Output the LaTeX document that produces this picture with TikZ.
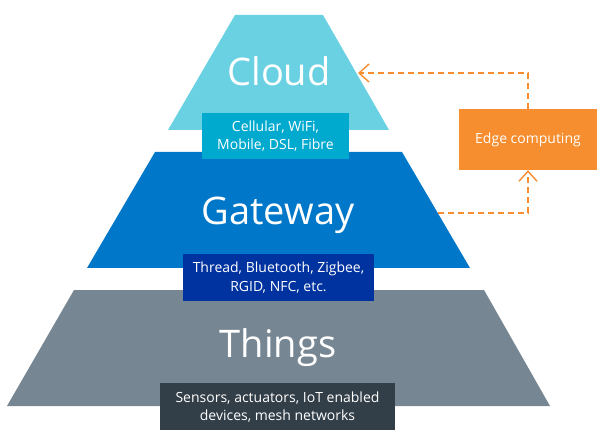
\documentclass[tikz,border=0pt]{standalone}
\usepackage{fontspec}
\setmainfont{Open Sans}
\usetikzlibrary{arrows.meta}
\definecolor{cloudcol}{HTML}{6AD1E3}
\definecolor{cloudbox}{HTML}{00A9CE}
\definecolor{gatecol}{HTML}{0077C8}
\definecolor{gatebox}{HTML}{0033A0}
\definecolor{thingcol}{HTML}{768692}
\definecolor{thingbox}{HTML}{333F48}
\definecolor{edgecol}{HTML}{F68D2E}
\tikzset{
  tier/.style={text=white,anchor=base,inner sep=0pt,font=\fontsize{38}{40}\selectfont},
  linkbox/.style={text=white,align=center,inner sep=0pt,font=\fontsize{14}{18.5}\selectfont},
  dasharrow/.style={draw=edgecol,line width=1.2pt,dash pattern=on 6pt off 4pt,-{Straight Barb[length=10pt,width=18pt,line width=1.4pt]}}
}
\begin{document}
\begin{tikzpicture}[x=1pt,y=-1pt]
  \useasboundingbox (0,0) rectangle (602,430);
  \fill[cloudcol] (235,15) -- (323,15) -- (389,130) -- (168,130) -- cycle;
  \fill[gatecol] (155,152) -- (402,152) -- (470,268) -- (87,268) -- cycle;
  \fill[thingcol] (74,290) -- (484,290) -- (550,406) -- (7,406) -- cycle;
  \node[tier] (cloud) at (279,86) {Cloud};
  \node[tier] (gateway) at (278,225) {Gateway};
  \node[tier] (things) at (278,357) {Things};
  \node[linkbox,fill=cloudbox,minimum width=147pt,minimum height=46pt] (cloudlink) at (275.5,136) {Cellular, WiFi,\\Mobile, DSL, Fibre};
  \node[linkbox,fill=gatebox,minimum width=191pt,minimum height=47pt] (gatelink) at (278.5,277.5) {Thread, Bluetooth, Zigbee,\\RGID, NFC, etc.};
  \node[linkbox,fill=thingbox,minimum width=235pt,minimum height=48pt] (thinglink) at (277.5,407) {Sensors, actuators, IoT enabled\\devices, mesh networks};
  \node[linkbox,fill=edgecol,minimum width=138pt,minimum height=61pt] (edge) at (528,139.5) {Edge computing};
  \coordinate (cloudtip) at (358,73);
  \coordinate (gatetip) at (438,213);
  \draw[dasharrow] (edge.north) |- (cloudtip);
  \draw[dasharrow] (gatetip) -| (edge.south);
\end{tikzpicture}
\end{document}
